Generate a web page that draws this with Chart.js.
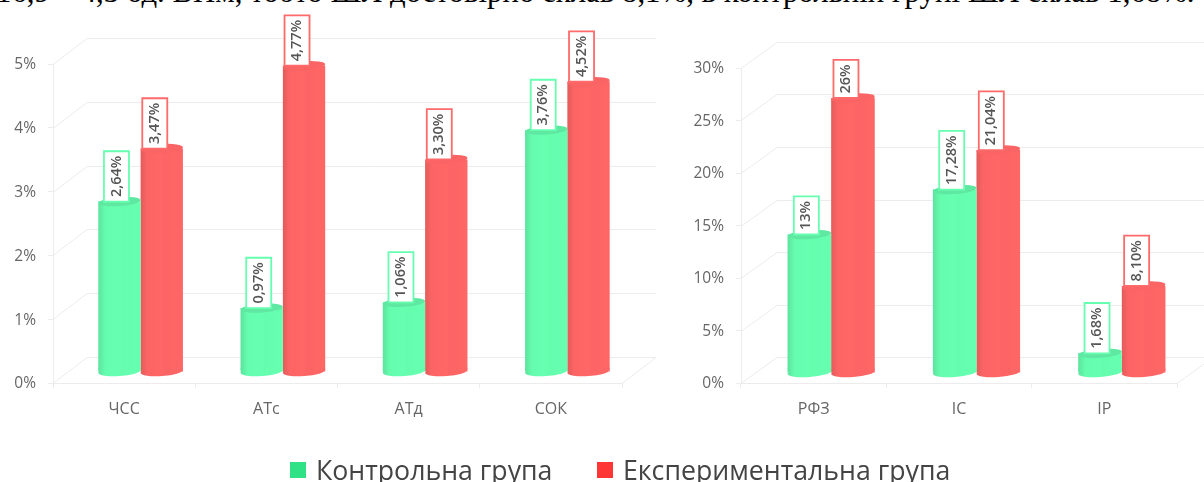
<!DOCTYPE html>
<html lang="uk">
<head>
<meta charset="utf-8">
<script src="https://cdn.jsdelivr.net/npm/chart.js@4/dist/chart.umd.min.js"></script>
<style>
html,body{margin:0;padding:0;background:#fff;width:1204px;height:482px;overflow:hidden}
#top{position:absolute;left:-4px;top:-25px;width:1215px;white-space:nowrap;font:30.8px "Liberation Serif",serif;color:#000}
canvas{position:absolute;top:0;filter:blur(.3px)}
#legend{position:absolute;left:0;top:0;width:1204px;height:482px;font-family:"Open Sans",sans-serif;font-size:26.7px;color:#444}
#legend span{position:absolute;white-space:nowrap;line-height:30px;top:455px}
#legend i{position:absolute;top:462px;width:16px;height:16px}
</style>
</head>
<body>
<div id="top">16,9 – 4,3 од. ВНм, тобто ШЛ достовірно склав 8,1%, в контрольній групі ШЛ склав 1,68%.</div>
<div style="position:absolute;left:0;top:0;width:680px;height:440px"><canvas id="a"></canvas></div>
<div style="position:absolute;left:680px;top:0;width:524px;height:440px"><canvas id="b"></canvas></div>
<div id="legend">
  <i style="left:290px;background:#2fe286"></i><span style="left:316px">Контрольна група</span>
  <i style="left:597px;background:#ff3636"></i><span style="left:623px">Експериментальна група</span>
</div>
<script>
const seriesNames = ['Контрольна група', 'Експериментальна група'];
const categoriesA = ['ЧСС', 'АТс', 'АТд', 'СОК'];
const controlA = [2.64, 0.97, 1.06, 3.76];
const experimentalA = [3.47, 4.77, 3.30, 4.52];
const controlLabelsA = ['2,64%', '0,97%', '1,06%', '3,76%'];
const experimentalLabelsA = ['3,47%', '4,77%', '3,30%', '4,52%'];
const categoriesB = ['РФЗ', 'ІС', 'ІР'];
const controlB = [13, 17.28, 1.68];
const experimentalB = [26, 21.04, 8.10];
const controlLabelsB = ['13%', '17,28%', '1,68%'];
const experimentalLabelsB = ['26%', '21,04%', '8,10%'];

const GRID = '#ececec', TEXT = '#666';
const BODY = ['#66ffb0', '#ff6666'], CAP = ['#5fe8a2', '#fb6464'], EDGE = ['#66ffb0', '#ff6a6a'];
const LABEL_DX = [-3, -7];

function make(id, w, h, cats, c, e, cl, el, max, step, g) {
  const labels = [cl, el];
  const depth = {
    id: 'depth',
    beforeDatasetsDraw(chart) {
      const x = chart.ctx, ya = chart.scales.y, a = chart.chartArea;
      x.save(); x.strokeStyle = GRID; x.lineWidth = 1;
      ya.ticks.forEach(t => {
        const py = Math.round(ya.getPixelForValue(t.value)) + .5;
        x.beginPath(); x.moveTo(a.left, py); x.lineTo(a.left + g.ox, py + g.oy);
        x.lineTo(a.right + g.ox, py + g.oy); x.stroke();
      });
      x.beginPath(); x.moveTo(a.right, a.bottom + .5); x.lineTo(a.right + g.ox, a.bottom + g.oy + .5); x.stroke();
      x.restore();
    },
    beforeDatasetDraw(chart, args) {
      const x = chart.ctx, i = args.index;
      x.save();
      x.translate(g.bx, g.by);
      args.meta.data.forEach(b => {
        x.fillStyle = BODY[i];
        x.beginPath();
        x.ellipse(b.x, b.base + g.bb, b.width / 2, 4.5, -0.07, 0, Math.PI * 2);
        x.rect(b.x - b.width / 2, b.base - 2, b.width, g.bb + 2);
        x.fill();
      });
    },
    afterDatasetDraw(chart, args) {
      const x = chart.ctx, i = args.index;
      args.meta.data.forEach(b => {
        const l = b.x - b.width / 2, r = b.x + b.width / 2;
        const gr = x.createLinearGradient(l, 0, r, 0);
        gr.addColorStop(0, 'rgba(0,0,0,.11)');
        gr.addColorStop(.16, 'rgba(0,0,0,.01)');
        gr.addColorStop(.5, 'rgba(0,0,0,0)');
        gr.addColorStop(.56, 'rgba(0,0,0,.012)');
        gr.addColorStop(1, 'rgba(0,0,0,0)');
        x.fillStyle = gr;
        x.beginPath();
        x.moveTo(l, b.y);
        x.lineTo(l, b.base + g.bb);
        x.ellipse(b.x, b.base + g.bb, b.width / 2, 4.5, -0.07, Math.PI, 0, true);
        x.lineTo(r, b.y);
        x.closePath();
        x.fill();
        x.fillStyle = CAP[i];
        x.beginPath();
        x.ellipse(b.x, b.y, b.width / 2, 4.5, -0.07, 0, Math.PI * 2);
        x.fill();
      });
      x.restore();
    },
    afterDatasetsDraw(chart) {
      const x = chart.ctx;
      chart.data.datasets.forEach((d, i) => {
        chart.getDatasetMeta(i).data.forEach((b, k) => {
          const txt = labels[i][k];
          x.save();
          x.font = '600 14.5px "Open Sans", sans-serif';
          const tw = x.measureText(txt).width, bh = tw + 9, bw = 25;
          const cx = b.x + g.bx + LABEL_DX[i], bot = b.y + g.by;
          x.fillStyle = '#fff';
          x.strokeStyle = EDGE[i];
          x.lineWidth = 1.8;
          x.beginPath(); x.rect(cx - bw / 2, bot - bh, bw, bh); x.fill(); x.stroke();
          x.translate(cx, bot - bh / 2);
          x.rotate(-Math.PI / 2);
          x.fillStyle = '#555';
          x.textAlign = 'center';
          x.textBaseline = 'middle';
          x.fillText(txt, 0, 0);
          x.restore();
        });
      });
    }
  };
  const family = '"Open Sans", sans-serif';
  return new Chart(document.getElementById(id), {
    type: 'bar',
    data: {
      labels: cats,
      datasets: [
        { label: seriesNames[0], data: c, backgroundColor: BODY[0], clip: false },
        { label: seriesNames[1], data: e, backgroundColor: BODY[1], clip: false }
      ]
    },
    options: {
      responsive: false, animation: false,
      layout: { padding: { top: g.top, right: w - g.right, left: 0, bottom: 0 } },
      datasets: { bar: { barPercentage: 1, categoryPercentage: g.cat } },
      plugins: { legend: { display: false }, tooltip: { enabled: false } },
      scales: {
        x: {
          afterFit(s) { s.height = h - g.bottom; },
          grid: { drawOnChartArea: false, color: GRID, tickLength: 5 },
          border: { color: GRID },
          ticks: { color: TEXT, font: { family, size: 16 }, padding: 12, maxRotation: 0 }
        },
        y: {
          min: 0, max,
          afterFit(s) { s.width = g.left; },
          grid: { drawOnChartArea: false, color: GRID, tickLength: 5 },
          border: { color: GRID },
          ticks: { stepSize: step, color: TEXT, font: { family, size: 15.5 }, padding: 12, labelOffset: 1, callback: v => v + '%' }
        }
      }
    },
    plugins: [depth]
  });
}
function size(id, w, h) { const c = document.getElementById(id); c.width = w; c.height = h; c.style.width = w + 'px'; c.style.height = h + 'px'; }
size('a', 680, 440); size('b', 524, 440);
make('a', 680, 440, categoriesA, controlA, experimentalA, controlLabelsA, experimentalLabelsA, 5, 1,
  { left: 53, right: 622, top: 64, bottom: 383, cat: .595, ox: 34, oy: -26, bx: 16.5, by: -13, bb: 2 });
make('b', 524, 440, categoriesB, controlB, experimentalB, controlLabelsB, experimentalLabelsB, 30, 5,
  { left: 61, right: 497, top: 68, bottom: 383, cat: .6, ox: 36, oy: -26, bx: 17.5, by: -12, bb: 2 });
</script>
</body>
</html>
